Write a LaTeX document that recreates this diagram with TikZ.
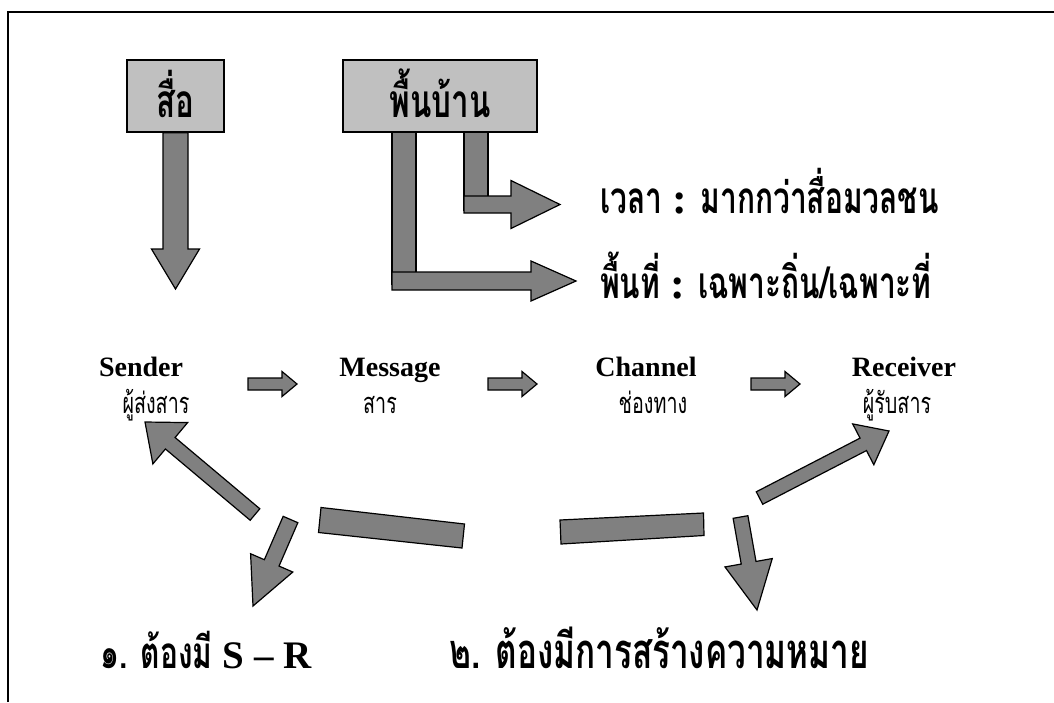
\documentclass[tikz,border=0pt]{standalone}
\usepackage{fontspec}
\setmainfont{Liberation Serif}
\newfontfamily\thai[Script=Thai,FakeStretch=0.68]{Loma}
\usetikzlibrary{calc}
\definecolor{boxgray}{HTML}{C0C0C0}
\definecolor{arrowgray}{HTML}{808080}
\tikzset{
  frameline/.style={line width=2pt,draw=black},
  graybox/.style={draw=black,line width=1.5pt,fill=boxgray,inner sep=0pt,
    text height=46pt,text depth=4pt,minimum height=72pt,
    font=\thai\bfseries\fontsize{46}{50}\selectfont},
  barrow/.style={draw=black,line width=1.2pt,fill=arrowgray},
  bigthai/.style={anchor=base west,inner sep=0pt,font=\thai\bfseries\fontsize{44}{48}\selectfont},
  enlabel/.style={anchor=base,inner sep=0pt,font=\bfseries\fontsize{28}{32}\selectfont},
  thlabel/.style={anchor=base,inner sep=0pt,font=\thai\fontsize{29}{32}\selectfont},
}
\newcommand\latcolon{{\rmfamily :}}
% #1 tail, #2 tip, #3 half shaft width, #4 half head width, #5 head length
\newcommand\blockarrow[5]{%
  \coordinate (ban) at ($(#2)!#5pt!(#1)$);
  \draw[barrow] ($(#1)!#3pt!90:(#2)$) -- ($(ban)!#3pt!90:(#2)$) -- ($(ban)!#4pt!90:(#2)$)
    -- (#2) -- ($(ban)!#4pt!-90:(#2)$) -- ($(ban)!#3pt!-90:(#2)$) -- ($(#1)!#3pt!-90:(#2)$) -- cycle;}
\begin{document}
\begin{tikzpicture}[x=1pt,y=-1pt]
\useasboundingbox (0,0) rectangle (1054,702);
\fill[white] (0,0) rectangle (1054,702);
% frame (top and left only)
\draw[frameline] (8,702) -- (8,12) -- (1054,12);

% top boxes
\node[graybox,minimum width=97pt] (sue) at (175.5,96) {สื่อ};
\node[graybox,minimum width=194pt] (pb) at (440,96) {พื้นบ้าน};

% down arrow from สื่อ
\coordinate (suetip) at (175.5,289);
\blockarrow{sue.south}{suetip}{12.5}{24}{40}

% L-shaped arrows from พื้นบ้าน
\draw[barrow] (392,132) rectangle (416,284);
\coordinate (longtail) at (392,281);
\coordinate (longtip) at (576,281);
\blockarrow{longtail}{longtip}{9}{20}{45}
\draw[barrow] (464,132) rectangle (488,210);
\coordinate (shorttail) at (464,204.5);
\coordinate (shorttip) at (560,204.5);
\blockarrow{shorttail}{shorttip}{8.5}{24}{49}

% texts on the right
\node[bigthai] (time) at (600,213) {เวลา \latcolon{} มากกว่าสื่อมวลชน};
\node[bigthai] (space) at (600,298) {พื้นที่ \latcolon{} เฉพาะถิ่น/เฉพาะที่};

% SMCR row
\node[enlabel] (sender) at (141,376) {Sender};
\node[thlabel] (senderth) at (156,413) {ผู้ส่งสาร};
\node[enlabel] (message) at (390,376) {Message};
\node[thlabel] (messageth) at (380,413) {สาร};
\node[enlabel] (channel) at (646,376) {Channel};
\node[thlabel] (channelth) at (653,413) {ช่องทาง};
\node[enlabel] (receiver) at (904,376) {Receiver};
\node[thlabel] (receiverth) at (897,413) {ผู้รับสาร};

\coordinate (a1t) at (248,384); \coordinate (a1h) at (297,384);
\coordinate (a2t) at (488,384); \coordinate (a2h) at (537,384);
\coordinate (a3t) at (751,384); \coordinate (a3h) at (800,384);
\blockarrow{a1t}{a1h}{6}{12.5}{15}
\blockarrow{a2t}{a2h}{6}{12.5}{15}
\blockarrow{a3t}{a3h}{6}{12.5}{15}

% lower arrows
\coordinate (la1t) at (255,514.5); \coordinate (la1h) at (145,422);
\blockarrow{la1t}{la1h}{7.5}{27}{33}
\coordinate (la2t) at (290.5,519.5); \coordinate (la2h) at (253,606);
\blockarrow{la2t}{la2h}{8}{23}{47}
\coordinate (la3t) at (740.5,517); \coordinate (la3h) at (757,610);
\blockarrow{la3t}{la3h}{7.5}{24}{48}
\coordinate (la4t) at (759.5,498); \coordinate (la4h) at (889,431);
\blockarrow{la4t}{la4h}{7}{23}{29}

% tilted bars
\draw[barrow] (321,507.5) -- (464.5,524) -- (462,548) -- (318.5,532.5) -- cycle;
\draw[barrow] (560,520) -- (703.5,513) -- (704,535.5) -- (561,544) -- cycle;

% bottom statements
\node[bigthai] (req1) at (100,668) {๑. ต้องมี {\rmfamily\fontsize{39}{44}\selectfont S – R}};
\node[bigthai,font=\thai\bfseries\fontsize{49}{53}\selectfont] (req2) at (449,668) {๒. ต้องมีการสร้างความหมาย};
\end{tikzpicture}
\end{document}
